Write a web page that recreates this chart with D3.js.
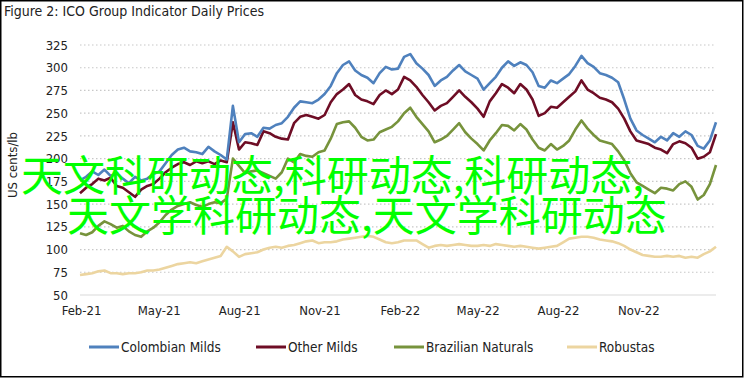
<!DOCTYPE html>
<html>
<head>
<meta charset="utf-8">
<script src="https://cdn.jsdelivr.net/npm/d3@7"></script>
<style>
  body { margin: 0; background: #fff; }
  svg text { font-family: "Liberation Sans Narrow", "DejaVu Sans Condensed", sans-serif; fill: #222; }
</style>
</head>
<body>
<div id="chart"></div>
<script>
// weekly dates, starting 1 Feb 2021
var startDate = new Date(2021, 1, 1);
var dates = d3.range(105).map(function (i) { return d3.timeDay.offset(startDate, i * 7); });

var tickLabels = ["Feb-21", "May-21", "Aug-21", "Nov-21", "Feb-22", "May-22", "Aug-22", "Nov-22"];
var yTicks = [50, 75, 100, 125, 150, 175, 200, 225, 250, 275, 300, 325];

var colombianMilds = [176,180,186,182,188,181,184,178,173,180,176,178,183,186,195,204,210,212,208,207,
  205,213,208,204,199,258,218,227,228,224,234,233,237,239,246,256,263,262,261,265,
  271,280,294,303,307,297,292,289,283,294,301,298,299,312,315,305,299,292,280,286,
  290,297,303,296,292,288,276,283,290,300,307,302,306,303,295,280,278,286,283,288,
  293,302,313,305,301,294,292,289,284,265,244,231,226,222,218,224,220,228,224,230,
  226,214,211,220,240];

var otherMilds = [162,168,172,178,176,179,170,168,163,158,166,170,172,178,185,190,194,196,193,197,
  195,197,194,198,196,240,210,218,217,215,230,228,224,222,221,239,246,248,246,244,
  248,262,271,276,282,270,265,263,260,270,275,271,276,290,286,279,270,262,253,258,
  261,268,275,268,262,255,246,263,272,282,278,272,282,276,265,247,250,257,256,262,
  268,274,286,276,272,267,265,262,255,244,230,220,218,216,212,210,206,216,219,217,
  212,200,202,207,227];

var brazilianNaturals = [118,116,119,126,131,128,124,126,120,116,114,120,124,130,138,144,148,150,152,149,
  147,150,152,151,156,200,192,184,186,187,184,181,178,185,200,196,205,203,202,207,
  209,222,238,240,241,234,224,220,221,229,232,235,241,250,256,246,238,230,218,221,
  225,232,239,229,222,216,209,220,228,237,236,231,238,232,221,212,209,216,210,214,
  220,232,242,233,226,220,218,216,208,198,184,174,170,166,162,168,167,165,172,175,
  169,155,160,172,193];

var robustas = [72,73,74,76,77,74,74,73,74,74,75,77,77,78,80,82,84,85,86,85,
  87,89,91,93,103,98,92,95,96,97,100,102,103,102,104,105,107,109,110,107,
  108,108,109,111,112,113,114,115,114,111,108,107,108,110,110,110,106,102,104,105,
  104,105,106,105,104,104,105,104,106,105,104,103,104,103,102,101,102,103,104,108,
  112,113,114,114,113,111,110,109,107,104,100,97,94,93,92,92,93,92,93,91,
  92,91,95,98,103];

var seriesNames = ["Colombian Milds", "Other Milds", "Brazilian Naturals", "Robustas"];
var seriesValues = [colombianMilds, otherMilds, brazilianNaturals, robustas];
var seriesColors = ["#4f81bd", "#6e0d25", "#77933c", "#ecd5a0"];

var overlayLines = ["天文科研动态,科研动态,科研动态,", "天文学科研动态,天文学科研动态"];

var W = 745, H = 378;
var svg = d3.select("#chart").append("svg").attr("width", W).attr("height", H);

// frame
svg.append("rect")
  .attr("x", 0.75).attr("y", 0.75)
  .attr("width", 742).attr("height", 376)
  .attr("fill", "none").attr("stroke", "#000").attr("stroke-width", 1.5);

svg.append("text")
  .attr("x", 4).attr("y", 16)
  .style("font-size", "14px")
  .text("Figure 2: ICO Group Indicator Daily Prices");

var x = d3.scaleTime().domain([dates[0], dates[dates.length - 1]]).range([80, 716]);
var y = d3.scaleLinear().domain([50, 325]).range([295, 45]);

// gridlines
svg.append("g").selectAll("line")
  .data(yTicks.slice(1))
  .join("line")
  .attr("x1", 80).attr("x2", 716)
  .attr("y1", function (d) { return y(d); })
  .attr("y2", function (d) { return y(d); })
  .attr("stroke", "#c8c8c8")
  .attr("stroke-width", 1.2)
  .attr("stroke-dasharray", "1.5,2.5");

svg.append("line")
  .attr("x1", 80).attr("x2", 716)
  .attr("y1", y(50)).attr("y2", y(50))
  .attr("stroke", "#d9d9d9").attr("stroke-width", 1.2);

// y axis
var yAxis = d3.axisLeft(y).tickValues(yTicks).tickSize(0).tickPadding(0);
var gy = svg.append("g").attr("transform", "translate(68,0)").call(yAxis);
gy.select(".domain").remove();
gy.selectAll("text").style("font-size", "13px").style("fill", "#222");

// x axis
var tickDates = tickLabels.map(function (s) { return d3.timeParse("%b-%y")(s); });
var xAxis = d3.axisBottom(x).tickValues(tickDates).tickSize(0).tickPadding(0)
  .tickFormat(d3.timeFormat("%b-%y"));
var gx = svg.append("g").attr("transform", "translate(1,306)").call(xAxis);
gx.select(".domain").remove();
gx.selectAll("text").style("font-size", "13px").style("fill", "#222");

svg.append("text")
  .attr("transform", "translate(17,165) rotate(-90)")
  .attr("text-anchor", "middle")
  .style("font-size", "13px")
  .text("US cents/lb");

// lines, Robustas drawn first so the others sit on top
var line = d3.line()
  .x(function (d, i) { return x(dates[i]); })
  .y(function (d) { return y(d); });

[3, 2, 1, 0].forEach(function (k) {
  svg.append("path")
    .datum(seriesValues[k])
    .attr("d", line)
    .attr("fill", "none")
    .attr("stroke", seriesColors[k])
    .attr("stroke-width", 2.6)
    .attr("stroke-linejoin", "round");
});

// legend
var legendX = [89, 256, 394, 567];
var legend = svg.append("g").selectAll("g")
  .data(seriesNames)
  .join("g")
  .attr("transform", function (d, i) { return "translate(" + legendX[i] + ",347)"; });
legend.append("line")
  .attr("x1", 0).attr("x2", 30)
  .attr("stroke", function (d, i) { return seriesColors[i]; })
  .attr("stroke-width", 3);
legend.append("text")
  .attr("x", 32).attr("dy", "0.35em")
  .style("font-size", "13.5px")
  .text(function (d) { return d; });

// green overlay text
svg.append("g").selectAll("text")
  .data(overlayLines)
  .join("text")
  .attr("x", function (d, i) { return i === 0 ? 21 : 67; })
  .attr("y", function (d, i) { return 191 + i * 40; })
  .style("font-family", "'Noto Sans CJK SC', sans-serif")
  .style("font-size", "42px")
  .style("fill", "#00ff00")
  .text(function (d) { return d; });
</script>
</body>
</html>
